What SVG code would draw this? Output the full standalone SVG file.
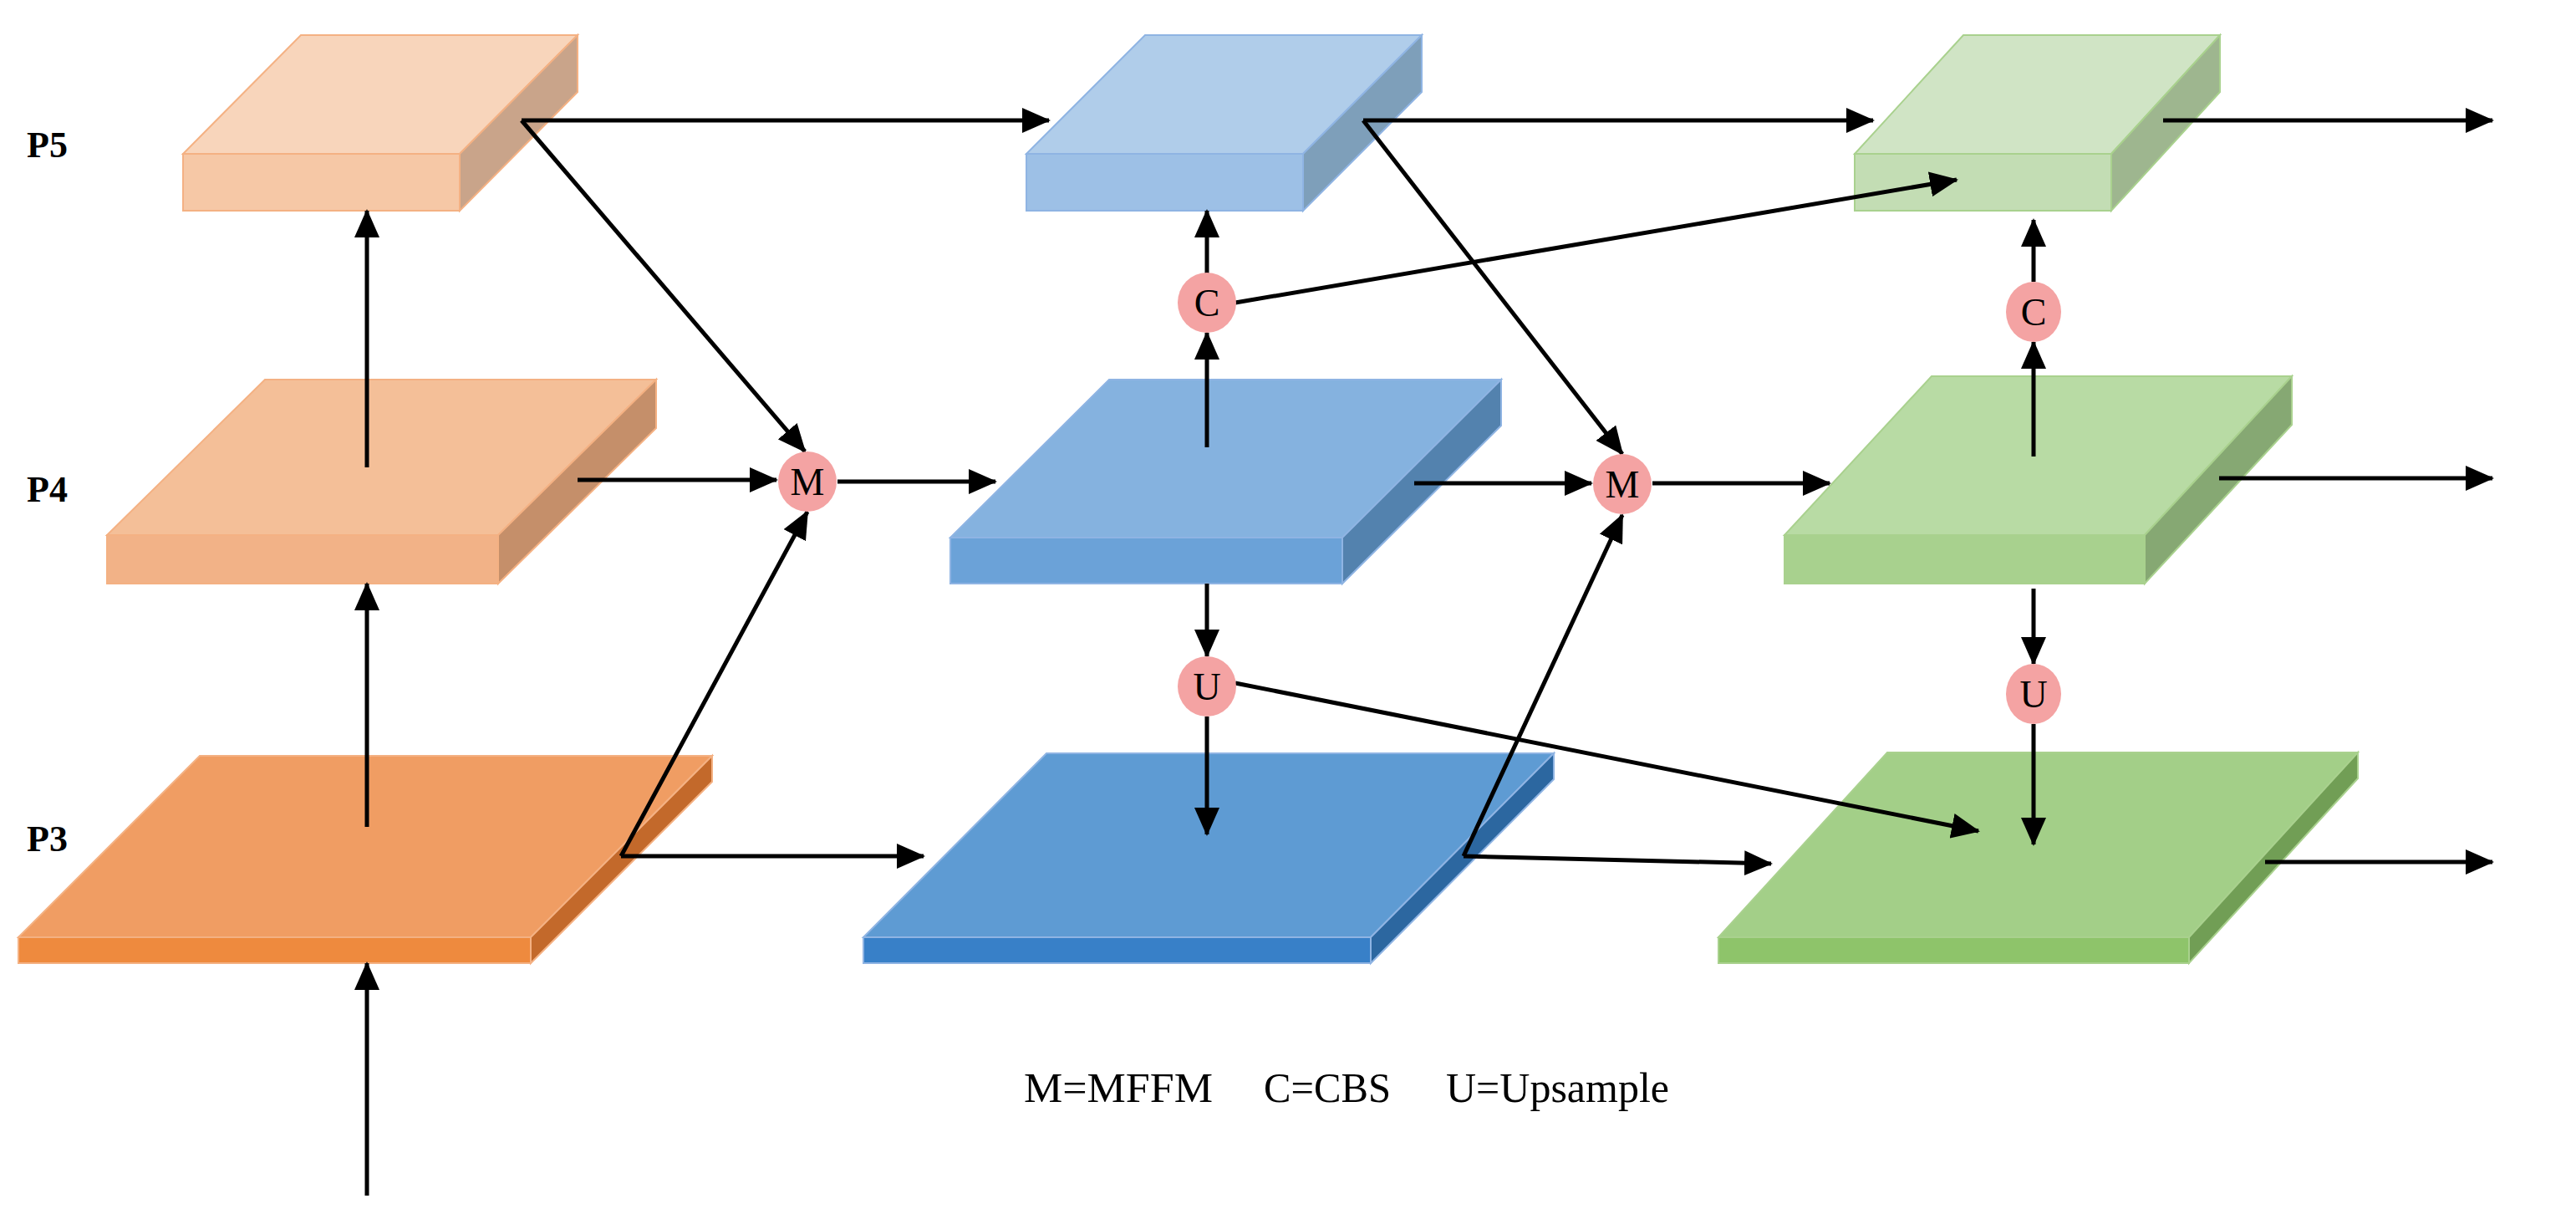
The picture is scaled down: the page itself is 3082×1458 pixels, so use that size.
<svg xmlns="http://www.w3.org/2000/svg" width="3082" height="1458" viewBox="0 0 3082 1458">
<style>
.b polygon,.b rect{stroke-width:2}
.o{stroke:#F4B183}.bl{stroke:#8FB4E3}.g{stroke:#A9D18E}
.c line{stroke:#000;stroke-width:5;fill:none;marker-end:url(#ah)}
.n ellipse{fill:#F4A3A3}
.n text{font-family:"Liberation Serif",serif;font-size:46px;text-anchor:middle}
.lab{font-family:"Liberation Serif",serif;font-size:44px;font-weight:bold}
.leg{font-family:"Liberation Serif",serif;font-size:50px}
</style>
<defs>
<marker id="ah" markerUnits="userSpaceOnUse" markerWidth="34" markerHeight="30" refX="32" refY="15" orient="auto"><path d="M0,0 L34,15 L0,30 Z" fill="#000"/></marker>
</defs>
<rect width="3082" height="1458" fill="#fff"/>
<g id="orange-p5" class="b o"><polygon points="219,184 550,184 691,42 360,42" fill="#F8D5BB"/><rect x="219" y="184" width="331" height="68" fill="#F6C8A6"/><polygon points="550,184 691,42 691,110 550,252" fill="#C9A48A"/></g>
<g id="orange-p4" class="b o"><polygon points="128,640 596,640 785,454 317,454" fill="#F4BF98"/><rect x="128" y="640" width="468" height="58" fill="#F2B287"/><polygon points="596,640 785,454 785,512 596,698" fill="#C58F6A"/></g>
<g id="orange-p3" class="b o"><polygon points="22,1121 635,1121 852,904 239,904" fill="#F09D63"/><rect x="22" y="1121" width="613" height="31" fill="#EE8A3E"/><polygon points="635,1121 852,904 852,935 635,1152" fill="#C3692B"/></g>
<g id="blue-p5" class="b bl"><polygon points="1228,184 1559,184 1701,42 1370,42" fill="#B0CDEA"/><rect x="1228" y="184" width="331" height="68" fill="#9DC0E6"/><polygon points="1559,184 1701,42 1701,110 1559,252" fill="#7E9FBA"/></g>
<g id="blue-p4" class="b bl"><polygon points="1137,643 1606,643 1796,454 1327,454" fill="#85B2DF"/><rect x="1137" y="643" width="469" height="55" fill="#6BA2D8"/><polygon points="1606,643 1796,454 1796,509 1606,698" fill="#5382AE"/></g>
<g id="blue-p3" class="b bl"><polygon points="1033,1121 1640,1121 1859,901 1252,901" fill="#5E9BD3"/><rect x="1033" y="1121" width="607" height="31" fill="#3880C8"/><polygon points="1640,1121 1859,901 1859,932 1640,1152" fill="#2C67A0"/></g>
<g id="green-p5" class="b g"><polygon points="2219,184 2526,184 2656,42 2349,42" fill="#D0E4C5"/><rect x="2219" y="184" width="307" height="68" fill="#C3DDB4"/><polygon points="2526,184 2656,42 2656,110 2526,252" fill="#9EB68F"/></g>
<g id="green-p4" class="b g"><polygon points="2135,640 2566,640 2742,450 2311,450" fill="#B8DBA4"/><rect x="2135" y="640" width="431" height="58" fill="#A8D18E"/><polygon points="2566,640 2742,450 2742,508 2566,698" fill="#86A873"/></g>
<g id="green-p3" class="b g"><polygon points="2056,1121 2619,1121 2821,900 2258,900" fill="#A3CF88"/><rect x="2056" y="1121" width="563" height="31" fill="#8EC46A"/><polygon points="2619,1121 2821,900 2821,931 2619,1152" fill="#719E55"/></g>
<g id="connectors" class="c">
<line x1="439" y1="1430" x2="439" y2="1152"/>
<line x1="439" y1="989" x2="439" y2="698"/>
<line x1="439" y1="559" x2="439" y2="252"/>
<line x1="624" y1="144" x2="1255" y2="144"/>
<line x1="624" y1="144" x2="963" y2="540"/>
<line x1="691" y1="574" x2="929" y2="574"/>
<line x1="743" y1="1024" x2="966" y2="612"/>
<line x1="743" y1="1024" x2="1105" y2="1024"/>
<line x1="1002" y1="576" x2="1191" y2="576"/>
<line x1="1444" y1="535" x2="1444" y2="398"/>
<line x1="1444" y1="327" x2="1444" y2="252"/>
<line x1="1478" y1="362" x2="2341" y2="215"/>
<line x1="1444" y1="698" x2="1444" y2="785"/>
<line x1="1444" y1="857" x2="1444" y2="998"/>
<line x1="1478" y1="817" x2="2367" y2="994"/>
<line x1="1631" y1="144" x2="2241" y2="144"/>
<line x1="1631" y1="144" x2="1941" y2="543"/>
<line x1="1692" y1="578" x2="1904" y2="578"/>
<line x1="1751" y1="1024" x2="1941" y2="616"/>
<line x1="1751" y1="1024" x2="2119" y2="1033"/>
<line x1="1977" y1="578" x2="2189" y2="578"/>
<line x1="2433" y1="546" x2="2433" y2="409"/>
<line x1="2433" y1="337" x2="2433" y2="263"/>
<line x1="2433" y1="704" x2="2433" y2="794"/>
<line x1="2433" y1="866" x2="2433" y2="1010"/>
<line x1="2588" y1="144" x2="2982" y2="144"/>
<line x1="2655" y1="572" x2="2982" y2="572"/>
<line x1="2710" y1="1031" x2="2982" y2="1031"/>
</g>
<g id="m1" class="n"><ellipse cx="966" cy="576" rx="35" ry="36"/><text x="966" y="592">M</text></g>
<g id="c1" class="n"><ellipse cx="1444" cy="362" rx="35" ry="36"/><text x="1444" y="378">C</text></g>
<g id="u1" class="n"><ellipse cx="1444" cy="821" rx="35" ry="36"/><text x="1444" y="837">U</text></g>
<g id="m2" class="n"><ellipse cx="1941" cy="579" rx="35" ry="36"/><text x="1941" y="595">M</text></g>
<g id="c2" class="n"><ellipse cx="2433" cy="373" rx="33" ry="36"/><text x="2433" y="389">C</text></g>
<g id="u2" class="n"><ellipse cx="2433" cy="830" rx="33" ry="36"/><text x="2433" y="846">U</text></g>
<text class="lab" x="32" y="188">P5</text>
<text class="lab" x="32" y="600">P4</text>
<text class="lab" x="32" y="1018">P3</text>
<text class="leg" x="1225" y="1318" textLength="226" lengthAdjust="spacingAndGlyphs">M=MFFM</text>
<text class="leg" x="1512" y="1318" textLength="152" lengthAdjust="spacingAndGlyphs">C=CBS</text>
<text class="leg" x="1730" y="1318" textLength="267" lengthAdjust="spacingAndGlyphs">U=Upsample</text>
</svg>
